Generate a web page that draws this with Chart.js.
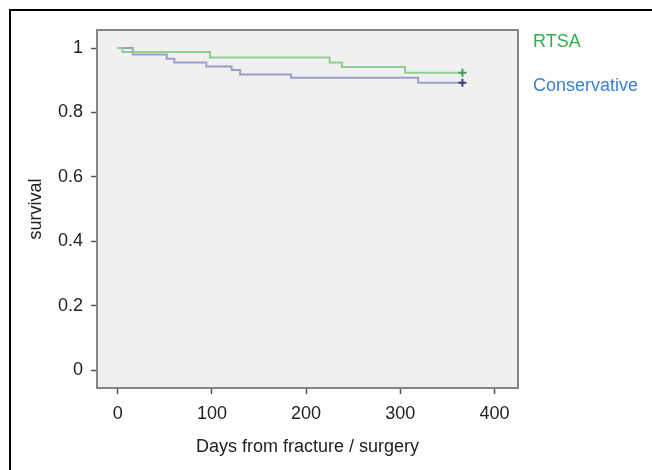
<!DOCTYPE html>
<html>
<head>
<meta charset="utf-8">
<script src="https://cdn.jsdelivr.net/npm/chart.js@4.4.1/dist/chart.umd.min.js"></script>
<style>
  html, body { margin: 0; padding: 0; background: #fff; }
  #wrap { width: 652px; height: 470px; position: relative; }
</style>
</head>
<body>
<div id="wrap"><canvas id="km"></canvas></div>
<script>
// Kaplan-Meier survival
const seriesNames = ['RTSA', 'Conservative'];
const rtsaDays = [0, 5, 98, 225, 238, 305, 366];
const rtsaSurv = [1.0, 0.988, 0.971, 0.955, 0.941, 0.923, 0.923];
const consDays = [0, 16, 52, 60, 94, 121, 130, 184, 319, 366];
const consSurv = [1.0, 0.980, 0.967, 0.955, 0.943, 0.932, 0.918, 0.908, 0.892, 0.892];
const xTicks = [0, 100, 200, 300, 400];
const yTicks = [0, 0.2, 0.4, 0.6, 0.8, 1];

const lineColors = ['#8fce8f', '#9c9ec9'];
const markColors = ['#3f9e50', '#3c3c8c'];
const legendColors = ['#2bb24c', '#3b7fd3'];
const FONT = "'Liberation Sans', Arial, sans-serif";

const toPoints = (xs, ys) => xs.map((x, i) => ({ x, y: ys[i] }));

function kmDataset(idx, xs, ys) {
  const last = xs.length - 1;
  return {
    label: seriesNames[idx],
    data: toPoints(xs, ys),
    stepped: 'before',
    borderColor: lineColors[idx],
    borderWidth: 2,
    fill: false,
    pointStyle: 'cross',
    pointRadius: ctx => ctx.dataIndex === last ? 4 : 0,
    pointBorderColor: markColors[idx],
    pointBorderWidth: 2,
    pointHoverRadius: 0
  };
}

// background, plot frame, outer black border and the coloured text legend
const framePlugin = {
  id: 'frame',
  beforeDraw(chart) {
    const { ctx, chartArea: a, width, height } = chart;
    ctx.save();
    ctx.fillStyle = '#fff';
    ctx.fillRect(0, 0, width, height);
    ctx.fillStyle = '#f0f0f0';
    ctx.fillRect(a.left, a.top, a.right - a.left, a.bottom - a.top);
    ctx.strokeStyle = '#000';
    ctx.lineWidth = 2;
    ctx.beginPath();
    ctx.moveTo(10, height);
    ctx.lineTo(10, 10);
    ctx.lineTo(width, 10);
    ctx.stroke();
    ctx.restore();
  },
  afterDraw(chart) {
    const { ctx, chartArea: a } = chart;
    ctx.save();
    ctx.strokeStyle = '#858585';
    ctx.lineWidth = 2;
    ctx.strokeRect(a.left, a.top, a.right - a.left, a.bottom - a.top);
    ctx.font = '18px ' + FONT;
    ctx.textBaseline = 'middle';
    ctx.textAlign = 'left';
    const ys = [42, 86];
    seriesNames.forEach((name, i) => {
      ctx.fillStyle = legendColors[i];
      ctx.fillText(name, a.right + 15, ys[i]);
    });
    ctx.restore();
  }
};

new Chart(document.getElementById('km'), {
  type: 'line',
  data: {
    datasets: [
      kmDataset(0, rtsaDays, rtsaSurv),
      kmDataset(1, consDays, consSurv)
    ]
  },
  options: {
    responsive: true,
    maintainAspectRatio: false,
    animation: false,
    layout: { padding: { top: 30, right: 134, left: 0, bottom: 0 } },
    plugins: {
      legend: { display: false },
      tooltip: { enabled: false }
    },
    scales: {
      x: {
        type: 'linear',
        min: -22,
        max: 425,
        afterBuildTicks: s => { s.ticks = xTicks.map(v => ({ value: v })); },
        afterFit: s => { s.height = 82; },
        grid: { drawOnChartArea: false, drawTicks: true, tickLength: 6, tickColor: '#555', tickWidth: 1.5 },
        border: { display: false },
        ticks: { color: '#222', padding: 9, maxRotation: 0, font: { family: FONT, size: 18 }, callback: v => String(v) },
        title: { display: true, text: 'Days from fracture / surgery', color: '#222', padding: { top: 4, bottom: 12 }, font: { family: FONT, size: 18 } }
      },
      y: {
        min: -0.055,
        max: 1.056,
        afterBuildTicks: s => { s.ticks = yTicks.map(v => ({ value: v })); },
        afterFit: s => { s.width = 97; },
        grid: { drawOnChartArea: false, drawTicks: true, tickLength: 6, tickColor: '#555', tickWidth: 1.5 },
        border: { display: false },
        ticks: { color: '#222', padding: 8, font: { family: FONT, size: 18 }, callback: v => String(v) },
        title: { display: true, text: 'survival', color: '#222', padding: { top: 25, bottom: 0 }, font: { family: FONT, size: 18 } }
      }
    }
  },
  plugins: [framePlugin]
});
</script>
</body>
</html>
